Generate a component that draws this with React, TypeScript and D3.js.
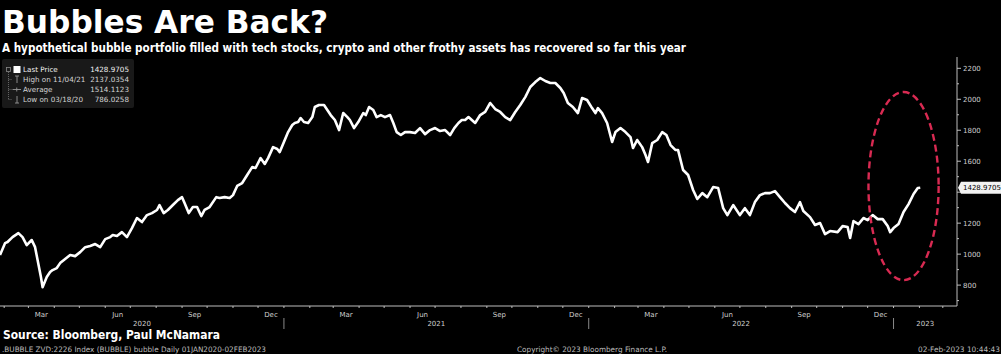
import React, { useRef, useEffect } from "react";
import * as d3 from "d3";

// Daily close (roughly every few sessions)
const priceDates = [
  "2020-01-27", "2020-02-02", "2020-02-05", "2020-02-11", "2020-02-18", "2020-02-23", "2020-02-28",
  "2020-03-05", "2020-03-09", "2020-03-12", "2020-03-16", "2020-03-18", "2020-03-23", "2020-03-27",
  "2020-03-30", "2020-04-04", "2020-04-08", "2020-04-14", "2020-04-20", "2020-04-26", "2020-05-02",
  "2020-05-08", "2020-05-14", "2020-05-20", "2020-05-26", "2020-06-01", "2020-06-07", "2020-06-10",
  "2020-06-15", "2020-06-21", "2020-06-27", "2020-07-03", "2020-07-09", "2020-07-15", "2020-07-21",
  "2020-07-27", "2020-08-02", "2020-08-05", "2020-08-10", "2020-08-15", "2020-08-21", "2020-08-27",
  "2020-09-01", "2020-09-04", "2020-09-09", "2020-09-14", "2020-09-19", "2020-09-24", "2020-09-28",
  "2020-10-04", "2020-10-12", "2020-10-16", "2020-10-22", "2020-10-28", "2020-11-01", "2020-11-06",
  "2020-11-12", "2020-11-18", "2020-11-24", "2020-11-28", "2020-12-04", "2020-12-09", "2020-12-13",
  "2020-12-19", "2020-12-24", "2020-12-27", "2021-01-01", "2021-01-06", "2021-01-11", "2021-01-14",
  "2021-01-18", "2021-01-21", "2021-01-25", "2021-01-30", "2021-02-04", "2021-02-07", "2021-02-12",
  "2021-02-18", "2021-02-22", "2021-02-26", "2021-03-03", "2021-03-08", "2021-03-13", "2021-03-18",
  "2021-03-21", "2021-03-26", "2021-03-31", "2021-04-06", "2021-04-09", "2021-04-13", "2021-04-18",
  "2021-04-22", "2021-04-27", "2021-05-02", "2021-05-08", "2021-05-12", "2021-05-16", "2021-05-21",
  "2021-05-26", "2021-06-01", "2021-06-07", "2021-06-13", "2021-06-19", "2021-06-25", "2021-07-01",
  "2021-07-07", "2021-07-13", "2021-07-19", "2021-07-24", "2021-07-29", "2021-08-02", "2021-08-06",
  "2021-08-10", "2021-08-18", "2021-08-24", "2021-08-30", "2021-09-05", "2021-09-11", "2021-09-17",
  "2021-09-23", "2021-09-29", "2021-10-05", "2021-10-11", "2021-10-17", "2021-10-23", "2021-10-29",
  "2021-11-04", "2021-11-10", "2021-11-16", "2021-11-22", "2021-11-28", "2021-12-02", "2021-12-07",
  "2021-12-13", "2021-12-19", "2021-12-24", "2021-12-30", "2022-01-05", "2022-01-09", "2022-01-12",
  "2022-01-17", "2022-01-23", "2022-01-29", "2022-02-02", "2022-02-08", "2022-02-14", "2022-02-20",
  "2022-02-23", "2022-02-28", "2022-03-06", "2022-03-10", "2022-03-13", "2022-03-18", "2022-03-24",
  "2022-03-30", "2022-04-04", "2022-04-09", "2022-04-15", "2022-04-18", "2022-04-24", "2022-04-30",
  "2022-05-06", "2022-05-11", "2022-05-17", "2022-05-23", "2022-05-30", "2022-06-05", "2022-06-11",
  "2022-06-16", "2022-06-23", "2022-07-01", "2022-07-07", "2022-07-13", "2022-07-19", "2022-07-25",
  "2022-07-31", "2022-08-06", "2022-08-12", "2022-08-18", "2022-08-24", "2022-08-30", "2022-09-05",
  "2022-09-11", "2022-09-15", "2022-09-23", "2022-09-29", "2022-10-05", "2022-10-11", "2022-10-17",
  "2022-10-26", "2022-11-01", "2022-11-07", "2022-11-10", "2022-11-14", "2022-11-20", "2022-11-26",
  "2022-12-01", "2022-12-07", "2022-12-13", "2022-12-19", "2022-12-25", "2022-12-28", "2023-01-01",
  "2023-01-07", "2023-01-13", "2023-01-19", "2023-01-25", "2023-01-30", "2023-02-02",
];

const priceValues = [
  994, 1071, 1078, 1110, 1136, 1110, 1058,
  1091, 1045, 962, 852, 786, 852, 884,
  897, 910, 942, 968, 994, 987, 1013,
  1045, 1052, 1065, 1045, 1097, 1110, 1123,
  1117, 1142, 1110, 1168, 1233, 1207, 1252,
  1265, 1285, 1317, 1265, 1285, 1317, 1349,
  1368, 1330, 1265, 1304, 1304, 1246, 1285,
  1304, 1368, 1362, 1368, 1362, 1381, 1440,
  1459, 1511, 1562, 1556, 1620, 1582, 1620,
  1691, 1679, 1659, 1724, 1788, 1834, 1847,
  1853, 1879, 1853, 1847, 1885, 1950, 1963,
  1963, 1931, 1898, 1866, 1801, 1911, 1885,
  1866, 1814, 1853, 1911, 1898, 1950, 1931,
  1885, 1898, 1885, 1898, 1847, 1788, 1769,
  1788, 1788, 1782, 1814, 1775, 1801, 1814,
  1795, 1801, 1769, 1814, 1847, 1866, 1866,
  1885, 1847, 1898, 1918, 1976, 1937, 1918,
  1885, 1866, 1918, 1963, 2014, 2079, 2111,
  2137, 2118, 2105, 2105, 2073, 2040, 1976,
  1950, 1911, 2008, 1995, 1943, 1911, 1943,
  1911, 1847, 1724, 1788, 1814, 1788, 1756,
  1685, 1737, 1691, 1640, 1595, 1717, 1737,
  1788, 1769, 1704, 1672, 1672, 1543, 1511,
  1414, 1356, 1394, 1368, 1433, 1427, 1297,
  1252, 1317, 1252, 1297, 1252, 1336, 1381,
  1394, 1394, 1407, 1368, 1330, 1297, 1272,
  1336, 1278, 1239, 1188, 1201, 1129, 1149,
  1142, 1181, 1175, 1104, 1213, 1194, 1233,
  1220, 1252, 1226, 1226, 1181, 1142, 1168,
  1194, 1272, 1323, 1388, 1427, 1429,
];

const yTicks = [800, 1000, 1200, 1400, 1600, 1800, 2000, 2200];
const yearLabels = ["2020", "2021", "2022", "2023"];
const legendLabels = ["Last Price", "High on 11/04/21", "Average", "Low on 03/18/20"];
const legendValues = ["1428.9705", "2137.0354", "1514.1123", "786.0258"];
const lastPriceLabel = "1428.9705";

const title = "Bubbles Are Back?";
const subtitle =
  "A hypothetical bubble portfolio filled with tech stocks, crypto and other frothy assets has recovered so far this year";
const source = "Source: Bloomberg, Paul McNamara";
const footLeft = ".BUBBLE ZVD:2226 Index (BUBBLE) bubble  Daily 01JAN2020-02FEB2023";
const footMid = "Copyright\u00A9 2023 Bloomberg Finance L.P.";
const footRight = "02-Feb-2023 10:44:43";

const App = () => {
  const svgRef = useRef(null);

  useEffect(() => {
    const width = 1001, height = 354;
    const plot = { left: 0, right: 957, top: 57, bottom: 306 };
    const font = "'DejaVu Sans', Verdana, sans-serif";
    const axisColor = "#bdbdbd";

    const parse = d3.timeParse("%Y-%m-%d");
    const data = priceDates.map((d, i) => ({ date: parse(d), value: priceValues[i] }));

    const svg = d3.select(svgRef.current)
      .attr("width", width)
      .attr("height", height)
      .style("background", "#000");

    svg.selectAll("*").remove();

    const x = d3.scaleTime()
      .domain([new Date(2020, 0, 27), new Date(2023, 2, 18)])
      .range([plot.left, plot.right]);

    const y = d3.scaleLinear()
      .domain([665, 2273])
      .range([plot.bottom, plot.top]);

    // Title + subtitle
    svg.append("text")
      .attr("x", 2).attr("y", 33)
      .attr("textLength", 326).attr("lengthAdjust", "spacingAndGlyphs")
      .style("font-family", font).style("font-weight", "bold")
      .style("font-size", "32px").attr("fill", "#fff")
      .text(title);

    svg.append("text")
      .attr("x", 2).attr("y", 52)
      .attr("textLength", 684).attr("lengthAdjust", "spacingAndGlyphs")
      .style("font-family", font).style("font-weight", "bold")
      .style("font-size", "12px").attr("fill", "#fff")
      .text(subtitle);

    // Price line
    const line = d3.line()
      .x(d => x(d.date))
      .y(d => y(d.value));

    svg.append("path")
      .datum(data)
      .attr("fill", "none")
      .attr("stroke", "#fff")
      .attr("stroke-width", 2.6)
      .attr("stroke-linejoin", "round")
      .attr("d", line);

    // Red dashed ellipse annotation around the recent rebound
    const eLeft = x(new Date(2022, 11, 2)), eRight = x(new Date(2023, 1, 24));
    const eTop = y(2047), eBottom = y(832);
    svg.append("ellipse")
      .attr("cx", (eLeft + eRight) / 2)
      .attr("cy", (eTop + eBottom) / 2)
      .attr("rx", (eRight - eLeft) / 2)
      .attr("ry", (eBottom - eTop) / 2)
      .attr("fill", "none")
      .attr("stroke", "#d92a52")
      .attr("stroke-width", 2.4)
      .attr("stroke-dasharray", "7,4");

    // Right y axis
    svg.append("line")
      .attr("x1", plot.right).attr("x2", plot.right)
      .attr("y1", plot.top).attr("y2", plot.bottom)
      .attr("stroke", axisColor);

    d3.range(700, 2300, 100).forEach(v => {
      const major = yTicks.includes(v);
      svg.append("line")
        .attr("x1", plot.right).attr("x2", plot.right + (major ? 4 : 2))
        .attr("y1", y(v)).attr("y2", y(v))
        .attr("stroke", axisColor);
    });

    const lastY = y(priceValues[priceValues.length - 1]);

    // tick labels; the one hidden behind the last-price tag is only peeking out below it
    svg.selectAll(".ytick")
      .data(yTicks)
      .enter().append("text")
      .attr("class", "ytick")
      .attr("x", plot.right + 6)
      .attr("y", d => y(d))
      .attr("dy", "0.35em")
      .style("font-family", font).style("font-size", "7px")
      .attr("fill", "#cfcfcf")
      .text(d => (Math.abs(y(d) - lastY) < 8 ? "" : d));

    // Last price tag
    svg.append("path")
      .attr("d", `M${plot.right + 1},${lastY} L${plot.right + 4},${lastY - 6} L${width},${lastY - 6} L${width},${lastY + 6} L${plot.right + 4},${lastY + 6} Z`)
      .attr("fill", "#f2f2f2");
    svg.append("text")
      .attr("x", plot.right + 6).attr("y", lastY)
      .attr("dy", "0.35em")
      .style("font-family", font).style("font-size", "7px")
      .attr("fill", "#000")
      .text(lastPriceLabel);

    // Bottom x axis
    svg.append("line")
      .attr("x1", plot.left).attr("x2", plot.right)
      .attr("y1", plot.bottom).attr("y2", plot.bottom)
      .attr("stroke", axisColor);

    const months = d3.timeMonth.range(x.domain()[0], x.domain()[1]);
    months.forEach(m => {
      svg.append("line")
        .attr("x1", x(m)).attr("x2", x(m))
        .attr("y1", plot.bottom).attr("y2", plot.bottom + 2)
        .attr("stroke", axisColor);
    });

    const fmtMonth = d3.timeFormat("%b");
    months
      .filter(m => [2, 5, 8, 11].includes(m.getMonth()))
      .filter(m => x(d3.timeMonth.offset(m, 1)) < plot.right)
      .forEach(m => {
        const mid = (x(m) + x(d3.timeMonth.offset(m, 1))) / 2;
        svg.append("text")
          .attr("x", mid).attr("y", 317)
          .attr("text-anchor", "middle")
          .style("font-family", font).style("font-size", "7px")
          .attr("fill", "#cfcfcf")
          .text(fmtMonth(m));
      });

    yearLabels.forEach(yr => {
      const start = new Date(+yr, 0, 1), end = new Date(+yr + 1, 0, 1);
      const x0 = Math.max(plot.left, x(start));
      const x1 = Math.min(plot.right, x(end));
      svg.append("text")
        .attr("x", (x0 + x1) / 2).attr("y", 326)
        .attr("text-anchor", "middle")
        .style("font-family", font).style("font-size", "7px")
        .attr("fill", "#cfcfcf")
        .text(yr);
      if (x(start) > plot.left) {
        svg.append("line")
          .attr("x1", x(start)).attr("x2", x(start))
          .attr("y1", 318).attr("y2", 329)
          .attr("stroke", "#8a8a8a");
      }
    });

    // Legend box
    const lg = svg.append("g");
    lg.append("rect")
      .attr("x", 2).attr("y", 59).attr("width", 132).attr("height", 49)
      .attr("rx", 2).attr("fill", "#191919");
    const rowY = [69.5, 79.5, 89.5, 99.5];
    lg.append("rect").attr("x", 6.5).attr("y", 67.5).attr("width", 4).attr("height", 4)
      .attr("fill", "none").attr("stroke", "#888").attr("stroke-width", 0.8);
    lg.append("line").attr("x1", 8.5).attr("x2", 8.5).attr("y1", 72).attr("y2", rowY[3])
      .attr("stroke", "#777").attr("stroke-width", 0.8).attr("stroke-dasharray", "1,1");
    rowY.slice(1).forEach(ry => {
      lg.append("line").attr("x1", 8.5).attr("x2", 12).attr("y1", ry).attr("y2", ry)
        .attr("stroke", "#777").attr("stroke-width", 0.8).attr("stroke-dasharray", "1,1");
    });
    lg.append("rect").attr("x", 13.5).attr("y", 66).attr("width", 7).attr("height", 7).attr("fill", "#fff");
    const ic = "#999";
    lg.append("path").attr("d", `M15,${rowY[1] - 3.5}H19M17,${rowY[1] - 3.5}V${rowY[1] + 3.5}`)
      .attr("stroke", ic).attr("fill", "none").attr("stroke-width", 0.9);
    lg.append("path").attr("d", `M12.5,${rowY[2]}H21M16.75,${rowY[2] - 2}V${rowY[2] + 2}`)
      .attr("stroke", ic).attr("fill", "none").attr("stroke-width", 0.9);
    lg.append("path").attr("d", `M17,${rowY[3] - 3.5}V${rowY[3] + 3.5}M15,${rowY[3] + 3.5}H19`)
      .attr("stroke", ic).attr("fill", "none").attr("stroke-width", 0.9);

    legendLabels.forEach((label, i) => {
      lg.append("text")
        .attr("x", 23).attr("y", rowY[i]).attr("dy", "0.35em")
        .style("font-family", font).style("font-size", "7.2px")
        .attr("fill", i === 0 ? "#f0f0f0" : "#d4d4d4")
        .text(label);
      lg.append("text")
        .attr("x", 129).attr("y", rowY[i]).attr("dy", "0.35em")
        .attr("text-anchor", "end")
        .style("font-family", font).style("font-size", "7.2px")
        .attr("fill", i === 0 ? "#f0f0f0" : "#d4d4d4")
        .text(legendValues[i]);
    });

    // Source + footer
    svg.append("text")
      .attr("x", 3).attr("y", 339)
      .attr("textLength", 217).attr("lengthAdjust", "spacingAndGlyphs")
      .style("font-family", font).style("font-weight", "bold")
      .style("font-size", "12px").attr("fill", "#fff")
      .text(source);

    const foot = [
      { text: footLeft, x: 2, anchor: "start", len: 264 },
      { text: footMid, x: 517, anchor: "start", len: 150 },
      { text: footRight, x: 1000, anchor: "end", len: 82 },
    ];
    foot.forEach(f => {
      svg.append("text")
        .attr("x", f.x).attr("y", 352)
        .attr("text-anchor", f.anchor)
        .attr("textLength", f.len).attr("lengthAdjust", "spacingAndGlyphs")
        .style("font-family", font).style("font-size", "7.5px")
        .attr("fill", "#bdbdbd")
        .text(f.text);
    });
  }, []);

  return (
    <svg ref={svgRef} style={{ position: "absolute", left: 0, top: 0, display: "block" }}></svg>
  );
};

export default App;
